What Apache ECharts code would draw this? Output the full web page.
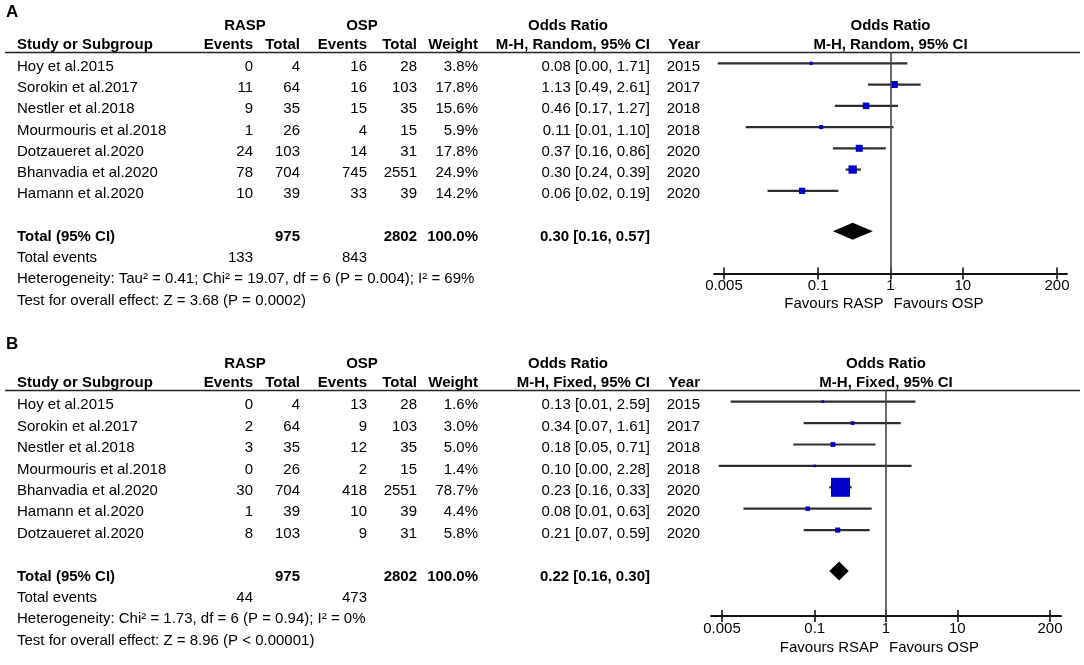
<!DOCTYPE html>
<html><head><meta charset="utf-8">
<script src="https://cdn.jsdelivr.net/npm/echarts@6/dist/echarts.min.js"></script>
<style>html,body{margin:0;padding:0;background:#fff;overflow:hidden}#c{width:1084px;height:665px}</style>
</head><body><div id="c"></div>
<script>
// ===== Panel A data (M-H, Random) =====
const studiesA = ['Hoy et al.2015','Sorokin et al.2017','Nestler et al.2018','Mourmouris et al.2018','Dotzaueret al.2020','Bhanvadia et al.2020','Hamann et al.2020'];
const raspEventsA = [0, 11, 9, 1, 24, 78, 10];
const raspTotalA  = [4, 64, 35, 26, 103, 704, 39];
const ospEventsA  = [16, 16, 15, 4, 14, 745, 33];
const ospTotalA   = [28, 103, 35, 15, 31, 2551, 39];
const weightA     = [3.8, 17.8, 15.6, 5.9, 17.8, 24.9, 14.2];
const orA         = [0.08, 1.13, 0.46, 0.11, 0.37, 0.30, 0.06];
const ciLowA      = [0.0041, 0.49, 0.17, 0.01, 0.16, 0.24, 0.02];
const ciHighA     = [1.71, 2.61, 1.27, 1.10, 0.86, 0.39, 0.19];
const yearA       = [2015, 2017, 2018, 2018, 2020, 2020, 2020];
const pooledA     = [0.30, 0.16, 0.57];
const totalWeightA = 100.0;
const statsA      = ['Heterogeneity: Tau\u00B2 = 0.41; Chi\u00B2 = 19.07, df = 6 (P = 0.004); I\u00B2 = 69%', 'Test for overall effect: Z = 3.68 (P = 0.0002)'];
const favoursA    = ['Favours RASP', 'Favours OSP'];
const methodA     = 'M-H, Random, 95% CI';

// ===== Panel B data (M-H, Fixed) =====
const studiesB = ['Hoy et al.2015','Sorokin et al.2017','Nestler et al.2018','Mourmouris et al.2018','Bhanvadia et al.2020','Hamann et al.2020','Dotzaueret al.2020'];
const raspEventsB = [0, 2, 3, 0, 30, 1, 8];
const raspTotalB  = [4, 64, 35, 26, 704, 39, 103];
const ospEventsB  = [13, 9, 12, 2, 418, 10, 9];
const ospTotalB   = [28, 103, 35, 15, 2551, 39, 31];
const weightB     = [1.6, 3.0, 5.0, 1.4, 78.7, 4.4, 5.8];
const orB         = [0.13, 0.34, 0.18, 0.10, 0.23, 0.08, 0.21];
const ciLowB      = [0.0066, 0.07, 0.05, 0.0045, 0.16, 0.01, 0.07];
const ciHighB     = [2.59, 1.61, 0.71, 2.28, 0.33, 0.63, 0.59];
const yearB       = [2015, 2017, 2018, 2018, 2020, 2020, 2020];
const pooledB     = [0.22, 0.16, 0.30];
const totalWeightB = 100.0;
const statsB      = ['Heterogeneity: Chi\u00B2 = 1.73, df = 6 (P = 0.94); I\u00B2 = 0%', 'Test for overall effect: Z = 8.96 (P < 0.00001)'];
const favoursB    = ['Favours RSAP', 'Favours OSP'];
const methodB     = 'M-H, Fixed, 95% CI';

// ===== Axis ticks =====
const tickValues = [0.005, 0.1, 1, 10, 200];
const tickLabels = ['0.005', '0.1', '1', '10', '200'];

// ===== Layout (pixels) =====
const FONT = '"Liberation Sans", Arial, sans-serif';
const cols = { study: 17, rEv: 253, rTot: 300, oEv: 367, oTot: 417, weight: 478, ci: 650, year: 700 };
const panels = [
  { letter: 'A', letterY: 12, groupY: 26, headY: 45, lineY: 52.5, rowY0: 63.3, rowH: 21.25, axisY: 273.5, favDy: 30.5, tickL: 724, tickR: 1057, ext: 10, boxK: 1.66, dHalf: 8.5,
    studies: studiesA, rEv: raspEventsA, rTot: raspTotalA, oEv: ospEventsA, oTot: ospTotalA, w: weightA, tw: totalWeightA, or: orA, lo: ciLowA, hi: ciHighA, yr: yearA, pooled: pooledA, stats: statsA, fav: favoursA, method: methodA },
  { letter: 'B', letterY: 344, groupY: 364, headY: 383, lineY: 390.5, rowY0: 401.7, rowH: 21.4, axisY: 616, favDy: 32, tickL: 722, tickR: 1050, ext: 11, boxK: 2.14, dHalf: 9.5,
    studies: studiesB, rEv: raspEventsB, rTot: raspTotalB, oEv: ospEventsB, oTot: ospTotalB, w: weightB, tw: totalWeightB, or: orB, lo: ciLowB, hi: ciHighB, yr: yearB, pooled: pooledB, stats: statsB, fav: favoursB, method: methodB }
];

const sum = a => a.reduce((s, v) => s + v, 0);
const fmtCI = (o, l, h) => o.toFixed(2) + ' [' + l.toFixed(2) + ', ' + h.toFixed(2) + ']';

const grids = [], xAxes = [], yAxes = [], series = [], graphics = [];

function txt(x, y, text, opt) {
  opt = opt || {};
  graphics.push({ type: 'text', x: x, y: y, silent: true,
    style: { text: String(text), fill: '#000', font: (opt.bold ? 'bold ' : '') + (opt.size || 15) + 'px ' + FONT,
      align: opt.align || 'right', verticalAlign: 'middle' } });
}

panels.forEach((P, pi) => {
  const dpp = Math.log10(200 / 0.005) / (P.tickR - P.tickL);
  const left = P.tickL - P.ext, right = P.tickR + P.ext;
  const xMin = 0.005 / Math.pow(10, P.ext * dpp);
  const xMax = 200 * Math.pow(10, P.ext * dpp);
  const yMin = (P.lineY - P.rowY0) / P.rowH;
  const yMax = (P.axisY - P.rowY0) / P.rowH;
  const oneX = P.tickL + Math.log10(1 / 0.005) / dpp;
  const centerX = (left + right) / 2;

  grids.push({ left: left, width: right - left, top: P.lineY, height: P.axisY - P.lineY, containLabel: false });
  const axBase = { gridIndex: pi, type: 'log', logBase: 10, min: xMin, max: xMax, position: 'bottom', splitLine: { show: false } };
  xAxes.push(Object.assign({}, axBase, {
    axisLine: { show: true, onZero: false, lineStyle: { color: '#111', width: 1.8 } },
    axisTick: { show: true, customValues: tickValues, length: 6, inside: false, lineStyle: { color: '#111', width: 1.6 } },
    axisLabel: { show: true, customValues: tickValues, margin: 5, color: '#000', fontSize: 15, fontFamily: FONT,
      formatter: v => { let best = 0; tickValues.forEach((t, k) => { if (Math.abs(Math.log10(t) - Math.log10(v)) < Math.abs(Math.log10(tickValues[best]) - Math.log10(v))) best = k; }); return tickLabels[best]; } }
  }));
  xAxes.push(Object.assign({}, axBase, {
    axisLine: { show: false, onZero: false },
    axisTick: { show: true, customValues: tickValues, length: 6, inside: true, lineStyle: { color: '#111', width: 1.6 } },
    axisLabel: { show: false }
  }));
  yAxes.push({ gridIndex: pi, type: 'value', inverse: true, min: yMin, max: yMax, show: false, splitLine: { show: false } });

  const xi = pi * 2;
  const rows = P.studies.map((s, i) => [i, P.or[i], P.lo[i], P.hi[i], P.w[i]]);
  series.push({
    type: 'custom', xAxisIndex: xi, yAxisIndex: pi, data: rows, encode: { x: [1, 2, 3], y: 0 },
    silent: true, z: 3,
    renderItem: (params, api) => {
      const cs = params.coordSys;
      const r = api.value(0);
      const pLo = api.coord([api.value(2), r]);
      const pHi = api.coord([api.value(3), r]);
      const p = api.coord([api.value(1), r]);
      const x1 = Math.max(pLo[0], cs.x), x2 = Math.min(pHi[0], cs.x + cs.width);
      const s = P.boxK * Math.sqrt(api.value(4));
      return { type: 'group', children: [
        { type: 'line', shape: { x1: x1, y1: p[1], x2: x2, y2: p[1] }, style: { stroke: '#2e2e2e', lineWidth: 2.2 } },
        { type: 'rect', shape: { x: p[0] - s / 2, y: p[1] - s / 2, width: s, height: s }, style: { fill: '#0000c8' } }
      ] };
    },
    markLine: { silent: true, symbol: 'none', label: { show: false }, animation: false,
      lineStyle: { color: '#444', width: 1.6, type: 'solid' }, data: [{ xAxis: 1 }] }
  });
  const totalRow = P.studies.length + 1;
  series.push({
    type: 'custom', xAxisIndex: xi, yAxisIndex: pi, data: [[totalRow, P.pooled[0], P.pooled[1], P.pooled[2]]], encode: { x: [1, 2, 3], y: 0 },
    silent: true, z: 4,
    renderItem: (params, api) => {
      const r = api.value(0);
      const c = api.coord([api.value(1), r]);
      const l = api.coord([api.value(2), r]);
      const h = api.coord([api.value(3), r]);
      const y = c[1] - 2;
      return { type: 'polygon', shape: { points: [[l[0], y], [c[0], y - P.dHalf], [h[0], y], [c[0], y + P.dHalf]] }, style: { fill: '#000' } };
    }
  });

  // ---- table text ----
  txt(6, P.letterY, P.letter, { bold: true, size: 17, align: 'left' });
  txt(245, P.groupY, 'RASP', { bold: true, align: 'center' });
  txt(362, P.groupY, 'OSP', { bold: true, align: 'center' });
  txt(568, P.groupY, 'Odds Ratio', { bold: true, align: 'center' });
  txt(centerX, P.groupY, 'Odds Ratio', { bold: true, align: 'center' });
  txt(cols.study, P.headY, 'Study or Subgroup', { bold: true, align: 'left' });
  txt(cols.rEv, P.headY, 'Events', { bold: true });
  txt(cols.rTot, P.headY, 'Total', { bold: true });
  txt(cols.oEv, P.headY, 'Events', { bold: true });
  txt(cols.oTot, P.headY, 'Total', { bold: true });
  txt(cols.weight, P.headY, 'Weight', { bold: true });
  txt(cols.ci, P.headY, P.method, { bold: true });
  txt(cols.year, P.headY, 'Year', { bold: true });
  txt(centerX, P.headY, P.method, { bold: true, align: 'center' });
  graphics.push({ type: 'line', silent: true, shape: { x1: 5, y1: P.lineY, x2: 1080, y2: P.lineY }, style: { stroke: '#222', lineWidth: 1.6 } });

  const ty = i => P.rowY0 + 3.5 + P.rowH * i;
  P.studies.forEach((s, i) => {
    const y = ty(i);
    txt(cols.study, y, s, { align: 'left' });
    txt(cols.rEv, y, P.rEv[i]);
    txt(cols.rTot, y, P.rTot[i]);
    txt(cols.oEv, y, P.oEv[i]);
    txt(cols.oTot, y, P.oTot[i]);
    txt(cols.weight, y, P.w[i].toFixed(1) + '%');
    txt(cols.ci, y, fmtCI(P.or[i], P.lo[i], P.hi[i]));
    txt(cols.year, y, P.yr[i]);
  });
  let y = ty(totalRow);
  txt(cols.study, y, 'Total (95% CI)', { bold: true, align: 'left' });
  txt(cols.rTot, y, sum(P.rTot), { bold: true });
  txt(cols.oTot, y, sum(P.oTot), { bold: true });
  txt(cols.weight, y, P.tw.toFixed(1) + '%', { bold: true });
  txt(cols.ci, y, fmtCI(P.pooled[0], P.pooled[1], P.pooled[2]), { bold: true });
  y = ty(totalRow + 1);
  txt(cols.study, y, 'Total events', { align: 'left' });
  txt(cols.rEv, y, sum(P.rEv));
  txt(cols.oEv, y, sum(P.oEv));
  txt(cols.study, ty(totalRow + 2), P.stats[0], { align: 'left' });
  txt(cols.study, ty(totalRow + 3), P.stats[1], { align: 'left' });

  // favours labels
  const fy = P.axisY + P.favDy;
  txt(oneX - 7, fy, P.fav[0], { align: 'right' });
  txt(oneX + 3, fy, P.fav[1], { align: 'left' });
});

const chart = echarts.init(document.getElementById('c'), null, { renderer: 'canvas' });
chart.setOption({
  backgroundColor: '#fff',
  animation: false,
  grid: grids, xAxis: xAxes, yAxis: yAxes, series: series, graphic: { elements: graphics }
});
</script></body></html>
